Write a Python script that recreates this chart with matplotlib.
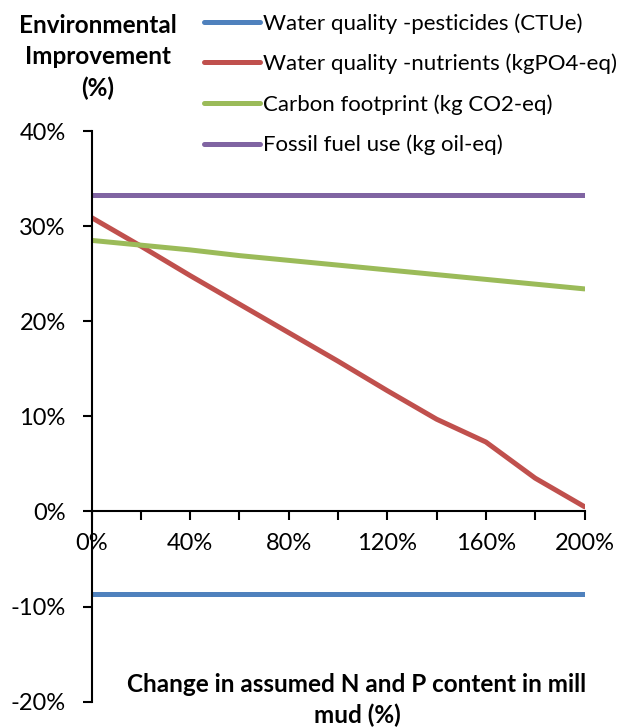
import matplotlib
matplotlib.use("Agg")
import matplotlib.pyplot as plt
from matplotlib.ticker import FuncFormatter, MultipleLocator

plt.rcParams['font.family'] = ['Lato', 'DejaVu Sans']

# Data
x_change = [0, 20, 40, 60, 80, 100, 120, 140, 160, 180, 200]
pesticides = [-8.7] * 11
nutrients = [30.9, 27.9, 24.8, 21.8, 18.8, 15.8, 12.7, 9.7, 7.3, 3.5, 0.5]
carbon = [28.5, 28.0, 27.5, 26.9, 26.4, 25.9, 25.4, 24.9, 24.4, 23.9, 23.4]
fossil = [33.3] * 11

series_names = ["Water quality -pesticides (CTUe)",
                "Water quality -nutrients (kgPO4-eq)",
                "Carbon footprint (kg CO2-eq)",
                "Fossil fuel use (kg oil-eq)"]
colors = ["#4F81BD", "#C0504D", "#9BBB59", "#8064A2"]

W, H = 629, 727
fig = plt.figure(figsize=(W / 100, H / 100), dpi=100)
ax = fig.add_axes([91.5 / W, 1 - 701.7 / H, 493 / W, (701.7 - 131) / H])

lines = []
for vals, name, c in zip([pesticides, nutrients, carbon, fossil], series_names, colors):
    ln, = ax.plot(x_change, vals, color=c, lw=3.6, solid_capstyle='round',
                  solid_joinstyle='round', label=name)
    lines.append(ln)

ax.set_xlim(0, 200)
ax.set_ylim(-20, 40)
ax.spines['top'].set_visible(False)
ax.spines['right'].set_visible(False)
ax.spines['bottom'].set_position(('data', 0))
ax.spines['bottom'].set_linewidth(1.5)
ax.spines['left'].set_linewidth(1.5)

ax.yaxis.set_major_locator(MultipleLocator(10))
ax.yaxis.set_major_formatter(FuncFormatter(lambda v, p: f"{v:.0f}%"))
ax.xaxis.set_major_locator(MultipleLocator(40))
ax.xaxis.set_minor_locator(MultipleLocator(20))
ax.xaxis.set_major_formatter(FuncFormatter(lambda v, p: f"{v:.0f}%"))

fs = 16
tfs = 17
ax.tick_params(axis='y', direction='out', length=6.5, width=1.5, pad=12, labelsize=tfs)
ax.tick_params(axis='x', which='both', direction='out', length=6.5, width=1.5, pad=9, labelsize=tfs)

# Axis titles
bfs = 17.5
fig.text(98 / W, 1 - 57 / H, "Environmental\nImprovement\n(%)", ha='center', va='center',
         fontsize=bfs, fontweight='bold', linespacing=1.45)
fig.text(357 / W, 1 - 700 / H, "Change in assumed N and P content in mill\nmud (%)",
         ha='center', va='center', fontsize=bfs, fontweight='bold', linespacing=1.35)

# Legend
leg = fig.legend(handles=lines, loc='upper left', bbox_to_anchor=(204 / W, 1 - 13 / H),
                 frameon=False, fontsize=fs, handlelength=2.5, handletextpad=0.15,
                 labelspacing=0.9, borderaxespad=0, borderpad=0)

fig.savefig("out.png", dpi=100)
